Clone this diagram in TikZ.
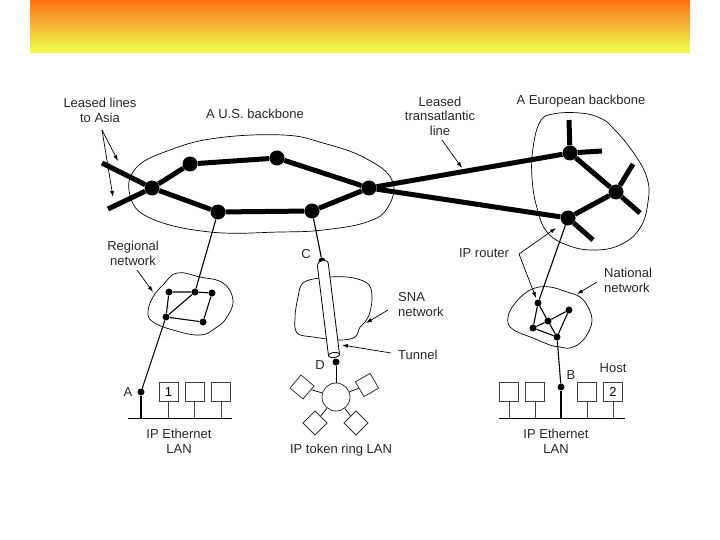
\documentclass[tikz,border=0pt]{standalone}
\usepackage{fontspec}
\setmainfont{Liberation Sans}
\usetikzlibrary{arrows.meta}
\definecolor{bannerorange}{RGB}{255,100,10}
\definecolor{bannermid}{RGB}{246,170,48}
\definecolor{banneryellow}{RGB}{242,245,72}
\pgfdeclareverticalshading{bannershade}{100bp}{color(0bp)=(banneryellow); color(30bp)=(banneryellow); color(55bp)=(bannermid); color(80bp)=(bannerorange); color(100bp)=(bannerorange)}
\begin{document}
\begin{tikzpicture}[x=1pt,y=-1pt,
  lbl/.style={font=\fontsize{13}{15}\selectfont, inner sep=0pt, align=center, text=black!85},
  bigdot/.style={circle, fill=black, inner sep=0pt, minimum size=15pt},
  smalldot/.style={circle, fill=black, inner sep=0pt, minimum size=7pt},
  backbone/.style={line width=5pt},
  thinline/.style={line width=1.1pt},
  cloudline/.style={line width=0.7pt},
  arr/.style={line width=0.7pt, -{Latex[length=6pt,width=4pt]}},
  hostbox/.style={draw=black!75, line width=0.8pt, minimum size=19pt, inner sep=0pt, fill=white, font=\fontsize{13}{15}\selectfont},
  ringbox/.style={draw=black!80, line width=0.8pt, minimum size=17pt, inner sep=0pt, fill=white},
]
\useasboundingbox (0,0) rectangle (720,540);
% banner
\shade[shading=bannershade] (30,0) rectangle (690,53);

% clouds
\draw[cloudline] plot[smooth cycle, tension=0.7] coordinates {(130,195) (136,168) (170,150) (217,138) (283,135) (323,143) (365,158) (392,180) (388,207) (367,222) (323,230) (280,232) (210,232) (150,218)};
\draw[cloudline] plot[smooth cycle, tension=0.7] coordinates {(533,148) (540,122) (553,114) (580,113) (600,118) (613,128) (633,152) (647,178) (648,202) (640,228) (620,245) (593,250) (567,245) (547,232) (537,208) (532,178)};
\draw[cloudline] plot[smooth cycle, tension=0.7] coordinates {(153,297) (163,285) (177,273) (200,277) (223,283) (233,300) (227,317) (217,327) (200,335) (173,330) (153,322) (148,312)};
\draw[cloudline] plot[smooth cycle, tension=0.6] coordinates {(298,297) (303,283) (320,278) (347,277) (367,283) (372,295) (370,312) (365,322) (360,327) (355,337) (340,340) (313,337) (297,333) (295,317)};
\draw[cloudline] plot[smooth cycle, tension=0.7] coordinates {(508,317) (513,306) (523,295) (535,288) (550,287) (567,292) (580,297) (588,307) (592,320) (588,333) (580,343) (570,348) (560,347) (550,345) (533,338) (520,333) (510,327)};

% backbone routers
\node[bigdot] (u1) at (152,188) {};
\node[bigdot] (u2) at (190,164) {};
\node[bigdot] (u3) at (277,158) {};
\node[bigdot] (u4) at (369,188) {};
\node[bigdot] (u5) at (218,212) {};
\node[bigdot] (u6) at (312,211) {};
\node[bigdot] (e1) at (570,153) {};
\node[bigdot] (e2) at (616,192) {};
\node[bigdot] (e3) at (568,218) {};
\coordinate (a1) at (102,163);
\coordinate (a2) at (108,209);
\coordinate (s1) at (569,120);
\coordinate (s2) at (602,151);
\coordinate (s3) at (633,164);
\coordinate (s4) at (640,213);
\coordinate (s5) at (593,240);

% regional network
\node[smalldot] (rg1) at (169,292) {};
\node[smalldot] (rg2) at (195,292) {};
\node[smalldot] (rg3) at (212,293) {};
\node[smalldot] (rg4) at (166,317) {};
\node[smalldot] (rg5) at (203,322) {};
% national network
\node[smalldot] (nn1) at (538,303) {};
\node[smalldot] (nn2) at (569,310) {};
\node[smalldot] (nn3) at (548,321) {};
\node[smalldot] (nn4) at (533,328) {};
\node[smalldot] (nn5) at (557,337) {};
% endpoints
\node[smalldot] (A) at (141,392) {};
\node[smalldot] (B) at (561,387) {};
\node[smalldot] (C) at (322,261) {};
\node[smalldot] (D) at (336,362) {};

% thin links
\draw[thinline] (u5) -- (rg2);
\draw[thinline] (rg1) -- (rg2) -- (rg3) -- (rg5) -- (rg4) -- (rg1);
\draw[thinline] (rg4) -- (rg2);
\draw[thinline] (rg4) -- (A);
\draw[thinline] (u6) -- (C);
\draw[thinline] (e3) -- (nn1);
\draw[thinline] (nn1) -- (nn3) -- (nn2) -- (nn5) -- (nn3) -- (nn4) -- (nn1);
\draw[thinline] (nn4) -- (nn5);
\draw[thinline] (nn5) -- (B);

% tunnel tube
\filldraw[fill=white, line width=0.8pt] (317.5,266.7) .. controls (317,259) and (329,257.5) .. (328.5,265.3) -- (339.5,354.3) -- (328.5,355.7) -- cycle;
\draw[line width=0.8pt, fill=white] plot[smooth cycle, domain=0:340, samples=18] ({334+5.46*cos(\x)+0.307*sin(\x)}, {355-0.675*cos(\x)+2.48*sin(\x)});

% backbone lines
\draw[backbone] (a1) -- (u1) -- (u5);
\draw[backbone] (a2) -- (u1) -- (u2);
\draw[backbone] (u2) -- (u3) -- (u4);
\draw[backbone] (u5) -- (u6) -- (u4);
\draw[backbone] (u4) -- (e1);
\draw[backbone] (u4) -- (e3);
\draw[backbone] (e1) -- (e2) -- (e3);
\draw[backbone] (e1) -- (s1);
\draw[backbone] (e1) -- (s2);
\draw[backbone] (e2) -- (s3);
\draw[backbone] (e2) -- (s4);
\draw[backbone] (e3) -- (s5);

% left Ethernet LAN
\coordinate (lbL) at (128,418);
\coordinate (lbR) at (232,418);
\draw[line width=0.9pt] (lbL) -- (lbR);
\draw[thinline] (A) -- (A |- lbL);
\node[hostbox] (h1) at (168.5,392) {1};
\node[hostbox] (h2) at (194.5,392) {};
\node[hostbox] (h3) at (221,392) {};
\foreach \h in {h1,h2,h3} \draw[line width=0.7pt, black!75] (\h.south) -- (\h.south |- lbL);

% right Ethernet LAN
\coordinate (rbL) at (499,418);
\coordinate (rbR) at (625,418);
\draw[line width=0.9pt] (rbL) -- (rbR);
\draw[thinline] (B) -- (B |- rbL);
\node[hostbox] (h4) at (509,392) {};
\node[hostbox] (h5) at (535,392) {};
\node[hostbox] (h6) at (587,392) {};
\node[hostbox] (h7) at (613,392) {2};
\foreach \h in {h4,h5,h6,h7} \draw[line width=0.7pt, black!75] (\h.south) -- (\h.south |- rbL);

% token ring
\node[circle, draw=black!80, line width=0.8pt, minimum size=28pt, inner sep=0pt] (ring) at (336,397) {};
\draw[line width=0.8pt] (D) -- (ring);
\node[ringbox, rotate=50] (r1) at (302,387) {};
\node[ringbox, rotate=30] (r2) at (367,385) {};
\node[ringbox, rotate=45] (r3) at (315,423) {};
\node[ringbox, rotate=45] (r4) at (356,423) {};
\foreach \r in {r1,r2,r3,r4} \draw[line width=0.7pt] (ring) -- (\r);

% labels
\node[lbl] (tAsia) at (100,110) {Leased lines\\to Asia};
\node[lbl] (tUS) at (255,114) {A U.S. backbone};
\node[lbl, font=\fontsize{13}{14.5}\selectfont] (tTrans) at (440,116) {Leased\\transatlantic\\line};
\node[lbl] (tEU) at (581,101) {A European backbone};
\node[lbl] (tReg) at (133,253) {Regional\\network};
\node[lbl] (tRouter) at (484,253) {IP router};
\node[lbl, anchor=west, align=left] (tSNA) at (398,305) {SNA\\network};
\node[lbl, anchor=west] (tTun) at (398,355) {Tunnel};
\node[lbl, anchor=west, align=left] (tNat) at (604,280) {National\\network};
\node[lbl] (tHost) at (613,368) {Host};
\node[lbl] (tA) at (128,392) {A};
\node[lbl] (tB) at (571,375) {B};
\node[lbl] (tC) at (306,254) {C};
\node[lbl] (tD) at (320,365) {D};
\node[lbl] (tLanL) at (179,441) {IP Ethernet\\LAN};
\node[lbl] (tLanR) at (556,441) {IP Ethernet\\LAN};
\node[lbl] (tRing) at (341,450) {IP token ring LAN};

% pointer arrows
\coordinate (pAsia) at (102,130);
\coordinate (pAsia1) at (118,161);
\coordinate (pAsia2) at (113,197);
\draw[arr] (pAsia) -- (pAsia1);
\draw[arr] (pAsia) -- (pAsia2);
\coordinate (pTr0) at (442,140);
\coordinate (pTr1) at (462,168);
\draw[arr] (pTr0) -- (pTr1);
\coordinate (pRg0) at (137,270);
\coordinate (pRg1) at (153,292);
\draw[arr] (pRg0) -- (pRg1);
\coordinate (pSn0) at (388,310);
\coordinate (pSn1) at (366,323);
\draw[arr] (pSn0) -- (pSn1);
\coordinate (pTu0) at (391,353);
\coordinate (pTu1) at (342,345);
\draw[arr] (pTu0) -- (pTu1);
\coordinate (pIp0) at (519,254);
\coordinate (pIp1) at (556,228);
\coordinate (pIp2) at (536,298);
\draw[arr] (pIp0) -- (pIp1);
\draw[arr] (pIp0) -- (pIp2);
\coordinate (pNa0) at (597,282);
\coordinate (pNa1) at (577,294);
\draw[arr] (pNa0) -- (pNa1);
\end{tikzpicture}
\end{document}
